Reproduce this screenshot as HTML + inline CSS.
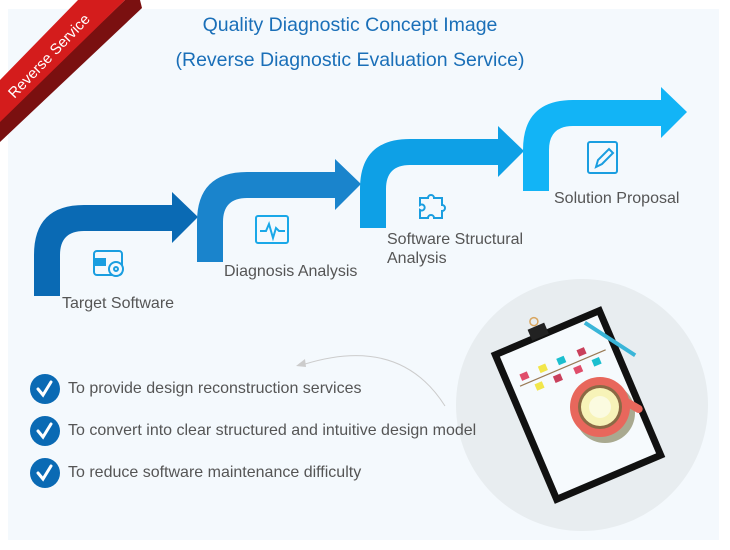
<!DOCTYPE html>
<html><head><meta charset="utf-8"><style>
html,body{margin:0;padding:0;background:#fff;}
body{width:730px;height:550px;position:relative;overflow:hidden;font-family:"Liberation Sans",sans-serif;}
.t{position:absolute;font-size:16px;color:#555;white-space:nowrap;}
</style></head><body>
<svg width="730" height="550" style="position:absolute;left:0;top:0" xmlns="http://www.w3.org/2000/svg">
<rect x="8" y="9" width="711" height="531" fill="#f4f9fd"/>
<g>
<path d="M34,296 L34,255 Q34,205 84,205 L172,205 L172,192 L198,217 L172,243 L172,231 L84,231 Q60,231 60,255 L60,296 Z" fill="#0a6ab4"/>
<path d="M197,262 L197,222 Q197,172 247,172 L335,172 L335,159 L361,184 L335,210 L335,198 L247,198 Q223,198 223,222 L223,262 Z" fill="#1a84cc"/>
<path d="M360,228 L360,189 Q360,139 410,139 L498,139 L498,126 L524,151 L498,177 L498,165 L410,165 Q386,165 386,189 L386,228 Z" fill="#0ea0e6"/>
<path d="M523,191 L523,150 Q523,100 573,100 L661,100 L661,87 L687,112 L661,138 L661,126 L573,126 Q549,126 549,150 L549,191 Z" fill="#12b4f6"/>
</g>
<g fill="none" stroke="#1a9ee0" stroke-width="2">
<rect x="94" y="251" width="28" height="24" rx="3"/>
<circle cx="116" cy="269" r="7" fill="#f4f9fd"/><circle cx="116" cy="269" r="2"/>
<rect x="256" y="216" width="32" height="27" rx="2" stroke="#1aa8e8"/>
<polyline points="260,231 266,231 269,224 273,238 276,228 279,231 285,231" stroke="#1aa8e8"/>
<path d="M420,198 h8 a3,3 0 1 1 6,0 h8 v7 a3,3 0 1 1 0,6 v7 h-8 a3,3 0 1 0 -6,0 h-8 v-8 a3,3 0 1 0 0,-5 z"/>
<rect x="588" y="142" width="29" height="31" rx="2"/>
<path d="M596,167 l2,-7 l11,-11 l4,4 l-11,11 z"/>
</g>
<rect x="94" y="258" width="12" height="8" fill="#1a9ee0"/>
<path d="M445,406 Q400,335 305,364" fill="none" stroke="#ccc" stroke-width="1"/>
<path d="M296,366 l9,-7 l1,8 z" fill="#ccc"/>
<g fill="#0a6ab4">
<circle cx="45" cy="389" r="15"/><circle cx="45" cy="431" r="15"/><circle cx="45" cy="473" r="15"/>
</g>
<g fill="none" stroke="#fff" stroke-width="3" stroke-linecap="round">
<path d="M38,389 l5,6 l8,-13"/><path d="M38,431 l5,6 l8,-13"/><path d="M38,473 l5,6 l8,-13"/>
</g>
<circle cx="582" cy="405" r="126" fill="#e8edf0"/>
<g transform="rotate(-23 578 405)">
<rect x="518" y="323" width="120" height="164" fill="#111"/>
<rect x="525" y="330" width="106" height="150" fill="#f6fafd"/>
<rect x="561" y="316" width="18" height="12" fill="#222"/>
<circle cx="570" cy="311" r="4" fill="none" stroke="#d9a660" stroke-width="1.5"/>
<line x1="532" y1="365" x2="625" y2="365" stroke="#9a7a55" stroke-width="1.2"/>
<rect x="536" y="354" width="8" height="7" fill="#e04d6a"/><rect x="556" y="354" width="8" height="7" fill="#f2e64a"/>
<rect x="576" y="354" width="8" height="7" fill="#1bbfcf"/><rect x="598" y="354" width="8" height="7" fill="#c9405b"/>
<rect x="546" y="369" width="8" height="7" fill="#f2e64a"/><rect x="566" y="369" width="8" height="7" fill="#c9405b"/>
<rect x="588" y="369" width="8" height="7" fill="#e04d6a"/><rect x="608" y="369" width="8" height="7" fill="#1bbfcf"/>
</g>
<rect x="580" y="337" width="60" height="4" fill="#3ab5d8" transform="rotate(33 610 339)"/>
<circle cx="605" cy="413" r="30" fill="#a9a990"/>
<circle cx="600" cy="407" r="30" fill="#e8675c"/>
<rect x="624" y="400" width="20" height="8" rx="4" fill="#e8675c" transform="rotate(30 630 404)"/>
<circle cx="600" cy="407" r="22" fill="#8b6a45"/>
<circle cx="600" cy="407" r="19" fill="#f7f3b8"/>
<circle cx="600" cy="407" r="11" fill="#fbfbe0"/>
<path d="M125,0 L140,0 L142,8 L0,142 L0,120 Z" fill="#7a1010"/>
<path d="M78,0 L125,0 L0,122 L0,80 Z" fill="#d41c1c"/>
</svg>
<div class="t" style="color:#fff;font-size:15px;top:90px;left:5px;transform:rotate(-46deg);transform-origin:left top;">Reverse Service</div>
<div class="t" style="left:0;width:700px;text-align:center;top:14px;font-size:19.5px;color:#1a6fb8;">Quality Diagnostic Concept Image</div>
<div class="t" style="left:0;width:700px;text-align:center;top:49px;font-size:19.5px;color:#1a6fb8;">(Reverse Diagnostic Evaluation Service)</div>
<div class="t" style="left:62px;top:295px;">Target Software</div>
<div class="t" style="left:224px;top:263px;">Diagnosis Analysis</div>
<div class="t" style="left:387px;top:230px;line-height:19px;">Software Structural<br>Analysis</div>
<div class="t" style="left:554px;top:190px;">Solution Proposal</div>
<div class="t" style="left:68px;top:380px;">To provide design reconstruction services</div>
<div class="t" style="left:68px;top:422px;">To convert into clear structured and intuitive design model</div>
<div class="t" style="left:68px;top:464px;">To reduce software maintenance difficulty</div>
</body></html>
